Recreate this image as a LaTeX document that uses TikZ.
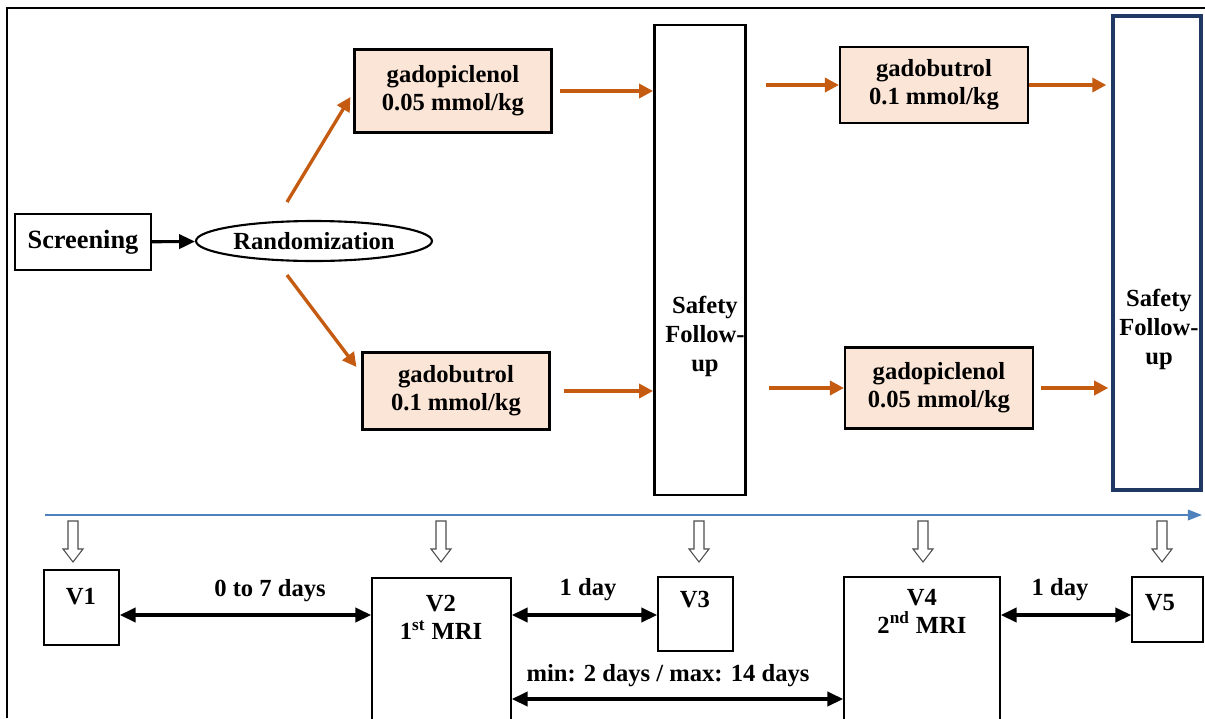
\documentclass[tikz,border=0pt]{standalone}
\usepackage{fontspec}
\setmainfont{Liberation Serif}
\usetikzlibrary{shapes.geometric,arrows.meta}

\definecolor{drugfill}{RGB}{251,229,214}
\definecolor{arroworange}{RGB}{197,90,17}
\definecolor{navyline}{RGB}{31,56,100}
\definecolor{timeblue}{RGB}{79,129,189}

\begin{document}
\begin{tikzpicture}[x=0.02cm,y=-0.02cm,
  txt/.style={font=\fontsize{14}{16}\selectfont\bfseries,align=center,inner sep=0pt},
  box/.style={draw,line width=1.2pt,inner sep=0pt},
  drug/.style={box,fill=drugfill,txt},
  visit/.style={draw,line width=0.9pt,inner sep=0pt},
  go/.style={draw=arroworange,line width=1.9pt,-{Triangle[length=8pt,width=8pt]}},
  dayspan/.style={line width=2pt,{Triangle[length=9pt,width=8pt]}-{Triangle[length=9pt,width=8pt]}}]
\useasboundingbox (0,0) rectangle (1205,718);
\clip (0,0) rectangle (1205,718);
\draw[line width=0.8pt] (7,718) -- (7,8) -- (1205,8);

\node[box,txt,font=\fontsize{15}{17}\selectfont\bfseries,minimum width=2.72cm,minimum height=1.12cm] (screen) at (83,242) {Screening};
\node[ellipse,draw,line width=1.2pt,txt,minimum width=4.72cm,minimum height=0.8cm] (rand) at (314,241) {Randomization};
\draw[line width=1.8pt,-{Triangle[length=9pt,width=8pt]}] (screen) -- (rand);

\node[drug,minimum width=3.94cm,minimum height=1.66cm] (drugA) at (453,91) {gadopiclenol\\0.05 mmol/kg};
\node[drug,minimum width=3.74cm,minimum height=1.54cm] (drugB) at (456,391) {gadobutrol\\0.1 mmol/kg};
\node[drug,minimum width=3.76cm,minimum height=1.52cm] (drugC) at (934,85) {gadobutrol\\0.1 mmol/kg};
\node[drug,minimum width=3.76cm,minimum height=1.62cm] (drugD) at (939,388) {gadopiclenol\\0.05 mmol/kg};

\node[draw,line width=1.6pt,minimum width=1.82cm,minimum height=9.4cm] (safeA) at (700,260) {};
\node[draw=navyline,line width=2pt,minimum width=1.76cm,minimum height=9.48cm] (safeB) at (1157,253) {};
\node[txt,font=\fontsize{14}{16.5}\selectfont\bfseries] (safeAt) at (705,336) {Safety\\Follow-\\up};
\node[txt,font=\fontsize{14}{16.5}\selectfont\bfseries] (safeBt) at (1159,329) {Safety\\Follow-\\up};

\coordinate (rUp) at (287,202);
\coordinate (rDn) at (287,275);
\draw[go] (rUp) -- ([shift={(-3,6)}]drugA.west);
\draw[go] (rDn) -- ([shift={(-5,-24)}]drugB.west);
\draw[go,shorten <=4.5pt] (drugA.east) -- (drugA.east -| safeA.west);
\draw[go,shorten <=7.5pt] (drugB.east) -- (drugB.east -| safeA.west);
\draw[go,shorten <=11pt] (safeA.east |- drugC.west) -- (drugC.west);
\draw[go,shorten <=12.5pt] (safeA.east |- drugD.west) -- (drugD.west);
\draw[go,shorten >=2.8pt] (drugC.east) -- (drugC.east -| safeB.west);
\draw[go,shorten <=4pt,shorten >=1.7pt] (drugD.east) -- (drugD.east -| safeB.west);

\coordinate (tStart) at (45,515);
\coordinate (tEnd) at (1202,515);
\draw[timeblue,line width=1pt,-{Triangle[length=8pt,width=6pt]}] (tStart) -- (tEnd);
\foreach \x in {73,441,699,923,1162}
  \draw[black!70,line width=0.6pt,fill=white] (\x-5,521) -- (\x+5,521) -- (\x+5,549) -- (\x+10,549) -- (\x,562) -- (\x-10,549) -- (\x-5,549) -- cycle;

\node[visit,minimum width=1.5cm,minimum height=1.5cm] (v1) at (81.5,607.5) {};
\node[visit,minimum width=2.78cm,minimum height=3.24cm] (v2) at (441.5,659) {};
\node[visit,minimum width=1.5cm,minimum height=1.48cm] (v3) at (695.5,614) {};
\node[visit,minimum width=3.12cm,minimum height=3.26cm] (v4) at (922,658.5) {};
\node[visit,minimum width=1.42cm,minimum height=1.3cm] (v5) at (1167.5,609.5) {};
\node[txt] (v1t) at (81,597) {V1};
\node[txt] (v2t) at (441,617) {V2\\1\textsuperscript{st} MRI};
\node[txt] (v3t) at (695,600) {V3};
\node[txt] (v4t) at (922,611) {V4\\2\textsuperscript{nd} MRI};
\node[txt] (v5t) at (1160,603) {V5};

\coordinate (lvlA) at (0,615);
\coordinate (lvlB) at (0,699);
\draw[dayspan] (v1.east |- lvlA) -- (v2.west |- lvlA);
\draw[dayspan] (v2.east |- lvlA) -- (v3.west |- lvlA);
\draw[dayspan] (v4.east |- lvlA) -- (v5.west |- lvlA);
\draw[dayspan] (v2.east |- lvlB) -- (v4.west |- lvlB);
\node[txt] (dA) at (270,591) {0 to 7 days};
\node[txt] (dB) at (588,590) {1 day};
\node[txt] (dC) at (1060,590) {1 day};
\node[txt] (dD) at (668,676) {min: 2 days / max: 14 days};
\end{tikzpicture}
\end{document}
